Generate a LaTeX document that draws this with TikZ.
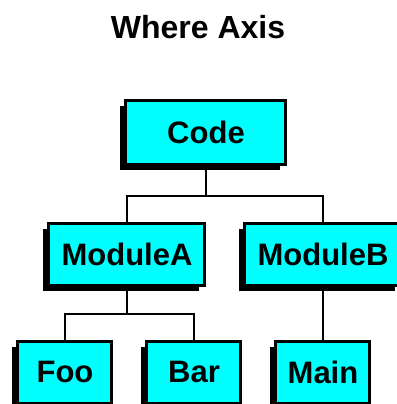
\documentclass[tikz,border=0pt]{standalone}
\usepackage{fontspec}
\setmainfont{Liberation Sans}
\usetikzlibrary{positioning}
\usetikzlibrary{shadows}
\definecolor{boxcyan}{RGB}{0,255,255}
\tikzset{box/.style={draw, line width=1.5pt, fill=boxcyan, inner sep=0pt,
    minimum height=31pt, font=\bfseries\fontsize{15.5}{18}\selectfont,
    drop shadow={shadow xshift=-3pt, shadow yshift=-3pt, fill=black, opacity=1}}}
\tikzset{wide/.style={box, minimum width=78pt}}
\tikzset{leaf/.style={box, minimum width=47pt}}
\tikzset{ln/.style={line width=1pt}}

\begin{document}
\begin{tikzpicture}[x=0.5pt, y=-0.5pt]
\useasboundingbox (0,0) rectangle (397,404);
\node[font=\bfseries\fontsize{16}{19}\selectfont] (title) at (198,27) {Where Axis};

\node[box, minimum width=80pt, minimum height=32pt] (Code) at (206,132) {Code};
\node[wide] (ModA) at (127,254) {ModuleA};
\node[wide] (ModB) at (323,254) {ModuleB};
\node[leaf] (Foo) at (65,372) {Foo};
\node[leaf] (Bar) at (194,372) {Bar};
\node[leaf] (Main) at (323,372) {Main};

\coordinate (j1) at (206,196);
\coordinate (j2) at (127,314);

\draw[ln] (Code) -- (j1);
\draw[ln] (ModA.north) |- (j1) -| (ModB.north);
\draw[ln] (ModA) -- (j2);
\draw[ln] (Foo.north) |- (j2) -| (Bar.north);
\draw[ln] (ModB) -- (Main);
\end{tikzpicture}
\end{document}
